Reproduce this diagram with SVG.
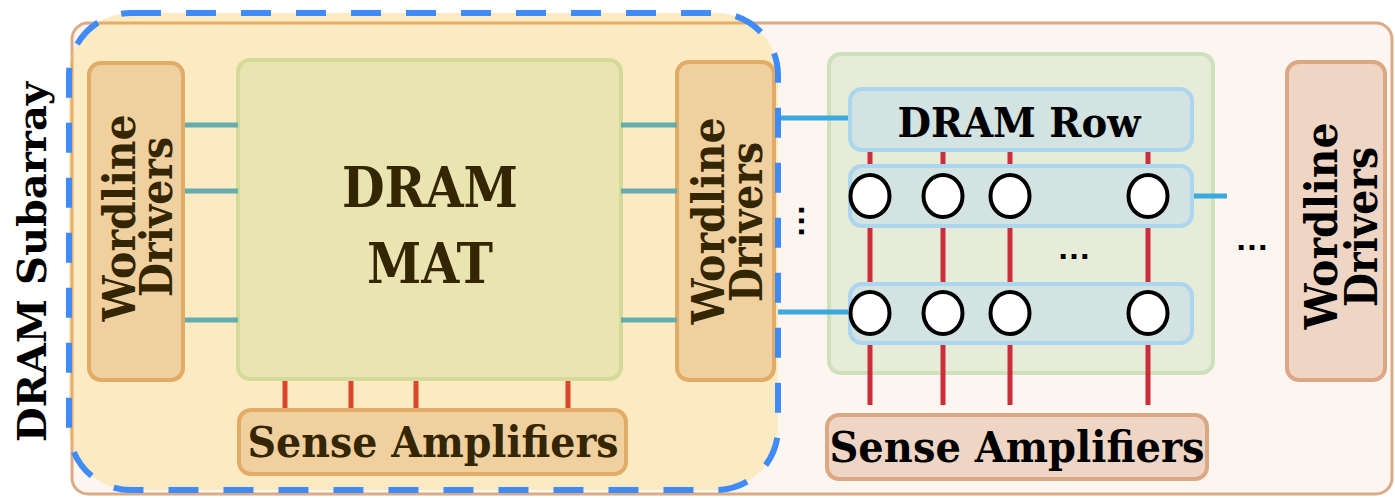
<svg xmlns="http://www.w3.org/2000/svg" width="1395" height="498" viewBox="0 0 1395 498">
  <defs>
    <style>
      .lbl { font-family: "DejaVu Serif", "Liberation Serif", serif; font-weight: bold; }
      .brown { fill: #332600; }
      .black { fill: #000; }
      .orangebox { fill: #f0d09e; stroke: #e2ac66; stroke-width: 4; }
      .tanbox { fill: #eed5c4; stroke: #dca883; stroke-width: 4; }
      .matbox { fill: #e9e4b0; stroke: #d3da9a; stroke-width: 4; }
      .greenbox { fill: #e6ecd8; stroke: #cfe1bc; stroke-width: 4; }
      .rowbox { fill: #d3e3e2; stroke: #acd5f0; stroke-width: 4; }
      .cell { fill: #fff; stroke: #000; stroke-width: 4; }
      .teal { stroke: #63adad; stroke-width: 5; }
      .blue { stroke: #3ba8de; stroke-width: 5; }
      .redl { stroke: #d9452d; stroke-width: 5; }
      .redr { stroke: #cc2d3a; stroke-width: 5; }
      .dots { font-family: "Liberation Sans", Arial, sans-serif; font-weight: bold; font-size: 34px; fill: #000; }
    </style>
    <clipPath id="warmClip">
      <rect x="69" y="13" width="709" height="477" rx="62"/>
    </clipPath>
  </defs>

  <!-- subarray frame -->
  <g id="subarray">
    <rect x="72" y="23" width="1320" height="471" rx="16" fill="#fdf5ef" stroke="#dcaa85" stroke-width="3"/>
    <rect x="69" y="13" width="709" height="477" rx="62" fill="#fcebc2"/>
    <rect x="72" y="23" width="1320" height="471" rx="16" fill="none" stroke="#e4ad68" stroke-width="3" clip-path="url(#warmClip)"/>
    <text class="lbl black" font-size="40" transform="translate(46,262) rotate(-90)" text-anchor="middle" textLength="360" lengthAdjust="spacingAndGlyphs">DRAM Subarray</text>
  </g>

  <!-- left mat -->
  <g id="wd-left">
    <rect class="orangebox" x="89" y="63" width="94" height="317" rx="12"/>
    <text class="lbl brown" font-size="44" transform="translate(135,218) rotate(-90)" text-anchor="middle" textLength="207" lengthAdjust="spacingAndGlyphs">Wordline</text>
    <text class="lbl brown" font-size="44" transform="translate(172,217) rotate(-90)" text-anchor="middle" textLength="160" lengthAdjust="spacingAndGlyphs">Drivers</text>
  </g>

  <g id="mat">
    <rect class="matbox" x="238" y="60" width="383" height="319" rx="12"/>
    <text class="lbl brown" font-size="56" x="430" y="207" text-anchor="middle" textLength="176" lengthAdjust="spacingAndGlyphs">DRAM</text>
    <text class="lbl brown" font-size="56" x="430" y="283" text-anchor="middle" textLength="126" lengthAdjust="spacingAndGlyphs">MAT</text>
  </g>

  <g id="wd-mid">
    <rect class="orangebox" x="677" y="62" width="97" height="318" rx="12"/>
    <text class="lbl brown" font-size="44" transform="translate(724,221) rotate(-90)" text-anchor="middle" textLength="207" lengthAdjust="spacingAndGlyphs">Wordline</text>
    <text class="lbl brown" font-size="44" transform="translate(762,222) rotate(-90)" text-anchor="middle" textLength="160" lengthAdjust="spacingAndGlyphs">Drivers</text>
  </g>

  <g id="sa-left">
    <rect class="orangebox" x="239" y="410" width="387" height="64" rx="12"/>
    <text class="lbl brown" font-size="42" x="433" y="457" text-anchor="middle" textLength="371" lengthAdjust="spacingAndGlyphs">Sense Amplifiers</text>
  </g>

  <!-- right mat -->
  <g id="mat-detail">
    <rect class="greenbox" x="829" y="54" width="384" height="319" rx="12"/>
  </g>

  <g id="wd-right">
    <rect class="tanbox" x="1287" y="62" width="98" height="318" rx="12"/>
    <text class="lbl black" font-size="44" transform="translate(1337,226) rotate(-90)" text-anchor="middle" textLength="207" lengthAdjust="spacingAndGlyphs">Wordline</text>
    <text class="lbl black" font-size="44" transform="translate(1377,227) rotate(-90)" text-anchor="middle" textLength="160" lengthAdjust="spacingAndGlyphs">Drivers</text>
  </g>

  <g id="sa-right">
    <rect class="tanbox" x="827" y="415" width="380" height="64" rx="12"/>
    <text class="lbl black" font-size="42" x="1017" y="462" text-anchor="middle" textLength="375" lengthAdjust="spacingAndGlyphs">Sense Amplifiers</text>
  </g>

  <!-- connectors -->
  <g id="connectors">
    <line class="teal" x1="185" y1="125" x2="238" y2="125"/>
    <line class="teal" x1="185" y1="191" x2="238" y2="191"/>
    <line class="teal" x1="185" y1="320" x2="238" y2="320"/>
    <line class="teal" x1="621" y1="125" x2="677" y2="125"/>
    <line class="teal" x1="621" y1="191" x2="677" y2="191"/>
    <line class="teal" x1="621" y1="320" x2="677" y2="320"/>

    <line class="redl" x1="285" y1="381" x2="285" y2="408"/>
    <line class="redl" x1="351" y1="381" x2="351" y2="408"/>
    <line class="redl" x1="416" y1="381" x2="416" y2="408"/>
    <line class="redl" x1="568" y1="381" x2="568" y2="408"/>

    <line class="blue" x1="778" y1="118" x2="850" y2="118"/>
    <line class="blue" x1="778" y1="312" x2="850" y2="312"/>
    <line class="blue" x1="1192" y1="196" x2="1227" y2="196"/>

    <line class="redr" x1="870" y1="150" x2="870" y2="405"/>
    <line class="redr" x1="943" y1="150" x2="943" y2="405"/>
    <line class="redr" x1="1010" y1="150" x2="1010" y2="405"/>
    <line class="redr" x1="1148" y1="150" x2="1148" y2="405"/>
  </g>

  <g id="dram-row">
    <rect class="rowbox" x="850" y="89" width="342" height="61" rx="12"/>
    <text class="lbl black" font-size="41" x="1019" y="137" text-anchor="middle" textLength="243" lengthAdjust="spacingAndGlyphs">DRAM Row</text>
  </g>

  <g id="row-a">
    <rect class="rowbox" x="850" y="166" width="342" height="60" rx="12"/>
    <ellipse class="cell" cx="870" cy="196" rx="19.5" ry="21"/>
    <ellipse class="cell" cx="943" cy="196" rx="19.5" ry="21"/>
    <ellipse class="cell" cx="1010" cy="196" rx="19.5" ry="21"/>
    <ellipse class="cell" cx="1148" cy="196" rx="19.5" ry="21"/>
  </g>

  <g id="row-b">
    <rect class="rowbox" x="850" y="284" width="342" height="59" rx="12"/>
    <ellipse class="cell" cx="870" cy="313" rx="19.5" ry="21"/>
    <ellipse class="cell" cx="943" cy="313" rx="19.5" ry="21"/>
    <ellipse class="cell" cx="1010" cy="313" rx="19.5" ry="21"/>
    <ellipse class="cell" cx="1148" cy="313" rx="19.5" ry="21"/>
  </g>

  <!-- ellipses -->
  <g id="ellipses">
    <text class="dots" x="1074" y="259" text-anchor="middle">…</text>
    <text class="dots" x="1252" y="250" text-anchor="middle">…</text>
    <text class="dots" transform="translate(799,221) rotate(90)" text-anchor="middle">…</text>
  </g>

  <!-- dashed outline around the left mat -->
  <rect x="69" y="13" width="709" height="477" rx="62" fill="none" stroke="#3f8bfa" stroke-width="6" stroke-dasharray="30 25"/>
</svg>
